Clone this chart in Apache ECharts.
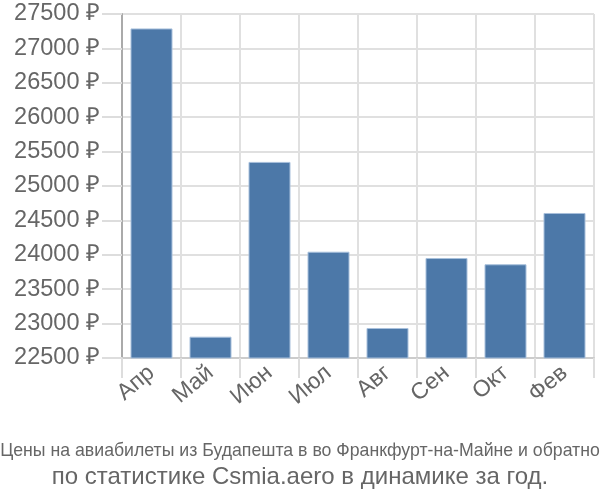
<!DOCTYPE html>
<html><head><meta charset="utf-8">
<script src="https://cdn.jsdelivr.net/npm/echarts@6/dist/echarts.min.js"></script>
<style>html,body{margin:0;padding:0;background:#fff}#c{width:600px;height:500px}</style>
</head><body><div id="c"></div>
<script>
const categories = ["Апр","Май","Июн","Июл","Авг","Сен","Окт","Фев"];
const prices = [27290, 22810, 25350, 24045, 22936, 23953, 23862, 24608];
const yMin = 22500, yMax = 27500, yStep = 500;
const titleLine1 = "Цены на авиабилеты из Будапешта в во Франкфурт-на-Майне и обратно";
const titleLine2 = "по статистике Csmia.aero в динамике за год.";

const chart = echarts.init(document.getElementById('c'), null, {renderer:'canvas'});
chart.setOption({
  animation: false,
  grid: {left: 122, right: 6, top: 14, bottom: 142, containLabel: false},
  title: [
    {text: titleLine1, left: 'center', top: 437, textStyle: {fontFamily: 'Liberation Sans', fontSize: 17.7, fontWeight: 'normal', color: '#666'}},
    {text: titleLine2, left: 'center', top: 460, textStyle: {fontFamily: 'Liberation Sans', fontSize: 24, fontWeight: 'normal', color: '#666'}}
  ],
  xAxis: {
    type: 'category', data: categories, boundaryGap: true,
    axisLine: {show: true, lineStyle: {color: '#ccc', width: 2}},
    axisTick: {show: true, length: 20, alignWithLabel: false, lineStyle: {color: '#ddd', width: 2}},
    splitLine: {show: true, lineStyle: {color: '#e0e0e0', width: 2}},
    axisLabel: {rotate: 40, fontFamily: 'Liberation Sans', fontSize: 23, color: '#666', margin: 12, interval: 0}
  },
  yAxis: {
    type: 'value', min: yMin, max: yMax, interval: yStep,
    axisLine: {show: true, lineStyle: {color: '#aaa', width: 2}},
    axisTick: {show: true, length: 20, lineStyle: {color: '#ddd', width: 2}},
    splitLine: {show: true, lineStyle: {color: '#e0e0e0', width: 2}},
    axisLabel: {formatter: function(v){ return v + ' ₽'; }, fontFamily: 'Liberation Sans', fontSize: 23.5, color: '#666', margin: 22}
  },
  series: [{
    type: 'bar', data: prices, barWidth: 42,
    itemStyle: {color: '#4c78a8', borderColor: '#a8c0dc', borderWidth: 1}
  }]
});
</script></body></html>
